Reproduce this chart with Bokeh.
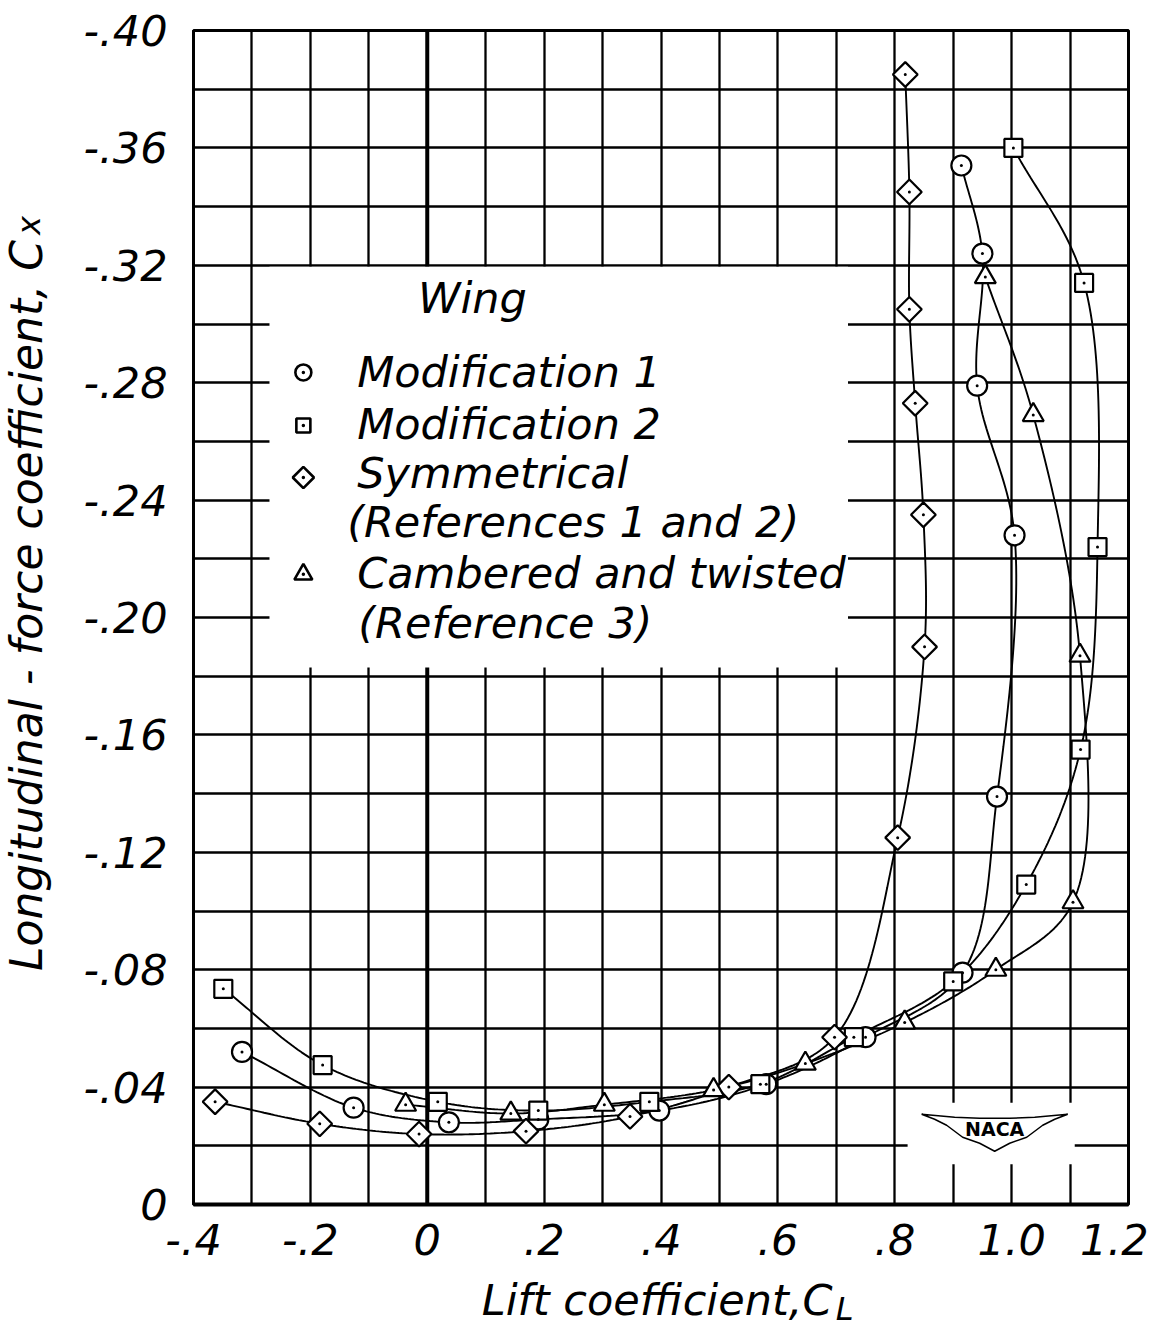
import numpy as np
from bokeh.plotting import figure
from bokeh.models import Range1d, FixedTicker, Span, Label
from bokeh.embed import file_html
from bokeh.resources import INLINE

FONT = "DejaVu Sans"

# ---------------- data ----------------
mod1_cl = [-0.317, -0.126, 0.037, 0.19, 0.397, 0.58, 0.75, 0.916, 0.975, 1.005, 0.941, 0.95, 0.914]
mod1_cx = [-0.052, -0.033, -0.028, -0.029, -0.032, -0.041, -0.057, -0.079, -0.139, -0.228, -0.279, -0.324, -0.354]

mod2_cl = [-0.349, -0.179, 0.018, 0.19, 0.38, 0.57, 0.73, 0.90, 1.025, 1.118, 1.147, 1.124, 1.003]
mod2_cx = [-0.0735, -0.0475, -0.035, -0.032, -0.035, -0.041, -0.057, -0.076, -0.109, -0.155, -0.224, -0.314, -0.360]

sym_cl = [-0.363, -0.184, -0.014, 0.169, 0.347, 0.516, 0.697, 0.805, 0.851, 0.849, 0.835, 0.825, 0.825, 0.818]
sym_cx = [-0.035, -0.0275, -0.024, -0.025, -0.030, -0.040, -0.057, -0.125, -0.190, -0.235, -0.273, -0.305, -0.345, -0.385]

cam_cl = [-0.037, 0.143, 0.303, 0.49, 0.647, 0.817, 0.973, 1.105, 1.117, 1.037, 0.955]
cam_cx = [-0.034, -0.031, -0.034, -0.039, -0.048, -0.062, -0.080, -0.103, -0.187, -0.269, -0.316]

x_ticks = [-0.4, -0.2, 0.0, 0.2, 0.4, 0.6, 0.8, 1.0, 1.2]
x_tick_labels = ["-.4", "-.2", "0", ".2", ".4", ".6", ".8", "1.0", "1.2"]
y_ticks = [-0.40, -0.36, -0.32, -0.28, -0.24, -0.20, -0.16, -0.12, -0.08, -0.04, 0.0]
y_tick_labels = ["-.40", "-.36", "-.32", "-.28", "-.24", "-.20", "-.16", "-.12", "-.08", "-.04", "0"]

legend_title = "Wing"
legend_lines = ["Modification 1", "Modification 2", "Symmetrical",
                "(References 1 and 2)", "Cambered and twisted", "(Reference 3)"]
x_title = "Lift coefficient,C"
x_title_sub = "L"
y_title = "Longitudinal - force coefficient, C"
y_title_sub = "x"


# ---------------- helpers ----------------
def smooth(xs, ys, n=30):
    """Centripetal Catmull-Rom curve through the read points (drawing only)."""
    kx, ky = 584.0, 2935.0
    P = np.column_stack([np.asarray(xs, float) * kx, np.asarray(ys, float) * ky])
    P = np.vstack([2 * P[0] - P[1], P, 2 * P[-1] - P[-2]])
    out = []
    for i in range(1, len(P) - 2):
        p0, p1, p2, p3 = P[i - 1], P[i], P[i + 1], P[i + 2]

        def tj(ti, a, b):
            return ti + max(np.linalg.norm(b - a), 1e-6) ** 0.5

        t0 = 0.0
        t1 = tj(t0, p0, p1)
        t2 = tj(t1, p1, p2)
        t3 = tj(t2, p2, p3)
        t = np.linspace(t1, t2, n, endpoint=False)[:, None]
        A1 = (t1 - t) / (t1 - t0) * p0 + (t - t0) / (t1 - t0) * p1
        A2 = (t2 - t) / (t2 - t1) * p1 + (t - t1) / (t2 - t1) * p2
        A3 = (t3 - t) / (t3 - t2) * p2 + (t - t2) / (t3 - t2) * p3
        B1 = (t2 - t) / (t2 - t0) * A1 + (t - t0) / (t2 - t0) * A2
        B2 = (t3 - t) / (t3 - t1) * A2 + (t - t1) / (t3 - t1) * A3
        C = (t2 - t) / (t2 - t1) * B1 + (t - t1) / (t2 - t1) * B2
        out.append(C)
    out.append(P[-2][None, :])
    C = np.vstack(out)
    return C[:, 0] / kx, C[:, 1] / ky


p = figure(width=1148, height=1333,
           x_range=Range1d(-0.4, 1.2), y_range=Range1d(0.0, -0.4),
           output_backend="svg", toolbar_location=None,
           min_border_left=193, min_border_right=20,
           min_border_top=30, min_border_bottom=129)
p.background_fill_color = "white"
p.border_fill_color = "white"
p.outline_line_color = "black"
p.outline_line_width = 3
p.outline_line_alpha = 1

# grid every 0.1 in CL and 0.02 in Cx
p.xgrid.ticker = FixedTicker(ticks=[round(v, 2) for v in np.arange(-0.4, 1.2001, 0.1)])
p.ygrid.ticker = FixedTicker(ticks=[round(v, 3) for v in np.arange(-0.4, 0.0001, 0.02)])
for g in (p.xgrid[0], p.ygrid[0]):
    g.grid_line_color = "black"
    g.grid_line_width = 2.3
    g.grid_line_alpha = 1

p.xaxis.ticker = FixedTicker(ticks=x_ticks)
p.xaxis.major_label_overrides = {t: l for t, l in zip(x_ticks, x_tick_labels)}
p.yaxis.ticker = FixedTicker(ticks=y_ticks)
p.yaxis.major_label_overrides = {t: l for t, l in zip(y_ticks, y_tick_labels)}
for ax in (p.xaxis[0], p.yaxis[0]):
    ax.major_tick_line_color = None
    ax.minor_tick_line_color = None
    ax.axis_line_color = "black"
    ax.major_label_text_font = FONT
    ax.major_label_text_font_style = "italic"
    ax.major_label_text_font_size = "43px"
    ax.major_label_text_color = "black"
p.xaxis.axis_line_width = 4
p.yaxis.axis_line_width = 3
p.xaxis.major_label_standoff = 13
p.yaxis.major_label_standoff = 20

# heavy zero line
p.add_layout(Span(location=0.0, dimension="height", line_color="black",
                  line_width=4, level="underlay"))

# white panels for the legend and the NACA emblem (hide the grid)
p.quad(left=-0.27, right=0.72, bottom=-0.183, top=-0.3195,
       fill_color="white", line_color=None)
p.quad(left=0.822, right=1.108, bottom=-0.0137, top=-0.0347,
       fill_color="white", line_color=None)

# faired curves
for xs, ys in ((mod1_cl, mod1_cx), (mod2_cl, mod2_cx), (sym_cl, sym_cx), (cam_cl, cam_cx)):
    cx_, cy_ = smooth(xs, ys)
    p.line(cx_, cy_, line_color="black", line_width=1.9)

# symbols
mk = dict(fill_color="white", line_color="black", line_width=2.2)
p.scatter(mod1_cl, mod1_cx, marker="circle", size=20, **mk)
p.scatter(mod2_cl, mod2_cx, marker="square", size=18, **mk)
p.scatter(sym_cl, sym_cx, marker="square", angle=np.pi / 4, size=17.5, **mk)
p.scatter(cam_cl, cam_cx, marker="triangle", size=21, **mk)
for xs, ys in ((mod1_cl, mod1_cx), (mod2_cl, mod2_cx), (sym_cl, sym_cx), (cam_cl, cam_cx)):
    p.scatter(xs, ys, marker="circle", size=3, fill_color="black", line_color=None)

# ---------------- legend (layout positions in data units) ----------------
lg_mx = -0.212
lg_my = [-0.2835, -0.2654, -0.2477, -0.2147]
lg_shapes = [("circle", 16, 0.0), ("square", 14, 0.0), ("square", 15, np.pi / 4), ("triangle", 18, 0.0)]
for (m, s, a), yy in zip(lg_shapes, lg_my):
    p.scatter([lg_mx], [yy], marker=m, size=s, angle=a, fill_color="white",
              line_color="black", line_width=2.6)
    p.scatter([lg_mx], [yy], marker="circle", size=3.5, fill_color="black", line_color=None)

txt = dict(text_font=FONT, text_font_style="italic", text_font_size="43px",
           text_color="black", text_baseline="alphabetic", text_align="left")
p.add_layout(Label(x=-0.016, y=-0.3090, text=legend_title, **txt))
lg_tx = [-0.120, -0.120, -0.120, -0.137, -0.120, -0.118]
lg_ty = [-0.2835, -0.2658, -0.2491, -0.2324, -0.2153, -0.1980]
for t, xx, yy in zip(legend_lines, lg_tx, lg_ty):
    p.add_layout(Label(x=xx, y=yy, text=t, **txt))

# ---------------- axis titles (placed in the side panels) ----------------
p.add_layout(Label(x=0.6935, y=0.0326, text=x_title, text_font=FONT, text_font_style="italic",
                   text_font_size="43px", text_color="black", text_baseline="alphabetic",
                   text_align="right"), "below")
p.add_layout(Label(x=0.6990, y=0.0356, text=x_title_sub, text_font=FONT, text_font_style="italic",
                   text_font_size="32px", text_color="black", text_baseline="alphabetic",
                   text_align="left"), "right")
p.add_layout(Label(x=-0.6857, y=-0.3286, text=y_title, angle=np.pi / 2, text_font=FONT,
                   text_font_style="italic", text_font_size="44px", text_color="black",
                   text_baseline="alphabetic", text_align="right"), "left")
p.add_layout(Label(x=-0.6812, y=-0.3303, text=y_title_sub, angle=np.pi / 2, text_font=FONT,
                   text_font_style="italic", text_font_size="32px", text_color="black",
                   text_baseline="alphabetic", text_align="left"), "above")

# ---------------- NACA emblem ----------------
em_cx, em_cy = 0.971, -0.0253
wing_px = [(-73, -16), (-40, -13), (-15, -12), (15, -12), (40, -13), (73, -16), (60, -11),
           (48, -5), (32, 7), (15, 13), (0, 21), (-15, 13), (-32, 7), (-48, -5), (-60, -11)]
p.patch([em_cx + dx / 584.0 for dx, dy in wing_px],
        [em_cy + dy * 0.02 / 58.7 for dx, dy in wing_px],
        fill_color="white", line_color="black", line_width=1.5)
p.add_layout(Label(x=em_cx, y=em_cy - 0.0003, text="NACA", text_font=FONT, text_font_style="bold",
                   text_font_size="19px", text_color="black", text_baseline="middle",
                   text_align="center"))

open("out.html", "w").write(file_html(p, INLINE))
